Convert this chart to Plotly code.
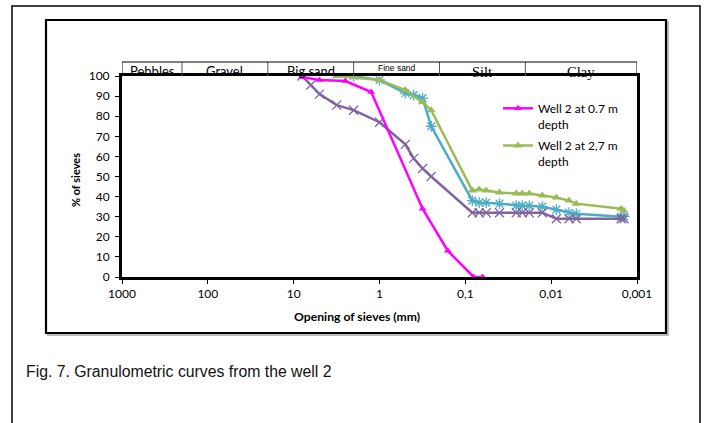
import math
import plotly.graph_objects as go

# ---------------- data ----------------
pink_x = [8, 5, 2.5, 1.25, 0.315, 0.16, 0.08, 0.063]
pink_y = [99.5, 98, 97.5, 92, 34, 13, 0, 0]

green_x = [3.15, 1.0, 0.5, 0.315, 0.25, 0.083, 0.069, 0.057, 0.040, 0.0255, 0.0217, 0.018,
           0.0127, 0.0087, 0.0062, 0.0051, 0.00153, 0.00142]
green_y = [100, 98, 93, 87, 83, 43, 43.5, 43, 42, 41.5, 41.5, 41.5, 40.5, 39.5, 38, 36.5, 34, 33]

cyan_x = [2.0, 1.0, 0.5, 0.4, 0.315, 0.25, 0.083, 0.069, 0.057, 0.040, 0.0255, 0.0217, 0.018,
          0.0127, 0.0087, 0.0062, 0.0051, 0.00153, 0.00142]
cyan_y = [100, 98, 91.5, 90.5, 89, 75, 38, 37, 37, 36.5, 35.5, 35.5, 35.5, 35, 33.5, 32, 31.5, 30, 30]

purple_x = [8, 6.3, 5, 3.15, 2, 1, 0.5, 0.4, 0.315, 0.25, 0.083, 0.069, 0.057, 0.040, 0.0255,
            0.0217, 0.018, 0.0127, 0.0087, 0.0062, 0.0051, 0.00153, 0.00142]
purple_y = [100, 95.5, 91, 85.5, 83, 77, 66, 59, 54, 50, 32, 32, 32, 32, 32, 32, 32, 32,
            29, 29, 29, 29, 29]

x_tickvals = [1000, 100, 10, 1, 0.1, 0.01, 0.001]
x_ticktext = ["1000", "100", "10", "1", "0,1", "0,01", "0,001"]

class_bounds = [1000, 200, 20, 2, 0.2, 0.02, 0.001]
class_names = ["Pebbles", "Gravel", "Big sand", "Fine sand", "Silt", "Clay"]

series_names = ["Well 2 at 0.7 m<br>depth", "Well 2 at 2,7 m<br>depth"]

# ---------------- layout geometry ----------------
W, H = 706, 423
L, R, T, B = 122, 637, 76, 277  # plot area in pixels


def px(xp):
    return (xp - L) / (R - L)


def py(yp):
    return (B - yp) / (B - T)


fig = go.Figure()

fig.add_trace(go.Scatter(
    x=cyan_x, y=cyan_y, mode="lines+markers", showlegend=False,
    line=dict(color="#4BACC6", width=2.5),
    marker=dict(symbol="asterisk-open", size=9, line=dict(color="#4BACC6", width=1.3))))
fig.add_trace(go.Scatter(
    x=purple_x, y=purple_y, mode="lines+markers", showlegend=False,
    line=dict(color="#8064A2", width=2.5),
    marker=dict(symbol="x-thin-open", size=9, line=dict(color="#8064A2", width=1.3))))
fig.add_trace(go.Scatter(
    x=green_x, y=green_y, mode="lines+markers", name=series_names[1], legendrank=2,
    legendgroup="g2",
    line=dict(color="#9BBB59", width=2.5),
    marker=dict(symbol="triangle-up", size=8, color="#9BBB59")))
fig.add_trace(go.Scatter(
    x=pink_x, y=pink_y, mode="lines+markers", name=series_names[0], legendrank=1,
    legendgroup="g1",
    line=dict(color="#FF00FF", width=2.5),
    marker=dict(symbol="triangle-up", size=7, color="#FF00FF")))

shapes = []
# outer frame
shapes.append(dict(type="rect", xref="paper", yref="paper",
                   x0=px(12), x1=px(700), y0=py(440), y1=py(6),
                   line=dict(color="#000", width=1.5), layer="below"))
# inner frame (with slight shadow)
shapes.append(dict(type="rect", xref="paper", yref="paper",
                   x0=px(48), x1=px(668), y0=py(335), y1=py(22),
                   line=dict(color="#BBBBBB", width=2), layer="below"))
shapes.append(dict(type="rect", xref="paper", yref="paper",
                   x0=px(46), x1=px(666), y0=py(333), y1=py(20),
                   fillcolor="white",
                   line=dict(color="#000", width=2.2), layer="below"))

# soil class header band
band_top = py(62)
for i, b in enumerate(class_bounds):
    shapes.append(dict(type="line", xref="x", yref="paper",
                       x0=b, x1=b, y0=1.0, y1=band_top,
                       line=dict(color="#555" if 0 < i < len(class_bounds) - 1 else "#000", width=1)))
shapes.append(dict(type="line", xref="x", yref="paper",
                   x0=class_bounds[0], x1=class_bounds[-1],
                   y0=band_top, y1=band_top, line=dict(color="#000", width=1)))

annotations = []
for i, name in enumerate(class_names):
    xc = (math.log10(class_bounds[i]) + math.log10(class_bounds[i + 1])) / 2
    if name == "Fine sand":
        fnt = dict(family="Liberation Sans", size=8.5, color="#000")
        yy = py(68)
    elif name in ("Silt", "Clay"):
        fnt = dict(family="Liberation Serif", size=14.5, color="#000")
        yy = py(72)
    else:
        fnt = dict(family="Lato", size=13, color="#000")
        yy = py(71)
    annotations.append(dict(x=xc, y=yy, xref="x", yref="paper", text=name,
                            showarrow=False, font=fnt, xanchor="center", yanchor="middle"))

annotations.append(dict(x=px(75), y=py(180), xref="paper", yref="paper",
                        text="<b>% of sieves</b>", textangle=-90, showarrow=False,
                        xanchor="center", yanchor="middle",
                        font=dict(family="Lato", size=11, color="#000")))
annotations.append(dict(x=px(357), y=py(316), xref="paper", yref="paper",
                        text="<b>Opening of sieves (mm)</b>", showarrow=False,
                        xanchor="center", yanchor="middle",
                        font=dict(family="Lato", size=12.2, color="#000")))
annotations.append(dict(x=px(24), y=py(371), xref="paper", yref="paper",
                        text="Fig. 7. Granulometric curves from the well 2", showarrow=False,
                        xanchor="left", yanchor="middle",
                        font=dict(family="Liberation Sans", size=15.8, color="#111")))

fig.update_layout(
    width=W, height=H,
    margin=dict(l=L, r=W - R, t=T, b=H - B),
    paper_bgcolor="white", plot_bgcolor="white",
    shapes=shapes, annotations=annotations,
    xaxis=dict(type="log", range=[3, -3], tickvals=x_tickvals, ticktext=x_ticktext,
               showgrid=False, zeroline=False, showline=True, linecolor="#000", linewidth=3,
               mirror=True, ticks="outside", ticklen=4, tickcolor="#000", tickwidth=1,
               tickfont=dict(family="Lato", size=12, color="#000")),
    yaxis=dict(range=[0, 100], dtick=10, showgrid=False, zeroline=False, showline=True,
               linecolor="#000", linewidth=3, mirror=True, ticks="outside", ticklen=4,
               tickcolor="#000", tickwidth=1, ticklabelstandoff=3,
               tickfont=dict(family="Lato", size=12, color="#000")),
    legend=dict(x=px(498), y=py(94), xanchor="left", yanchor="top",
                bgcolor="rgba(0,0,0,0)", borderwidth=0, valign="top",
                font=dict(family="Lato", size=12, color="#000"),
                traceorder="grouped", tracegroupgap=3, itemwidth=30),
    showlegend=True,
)

fig.write_html("out.html")
